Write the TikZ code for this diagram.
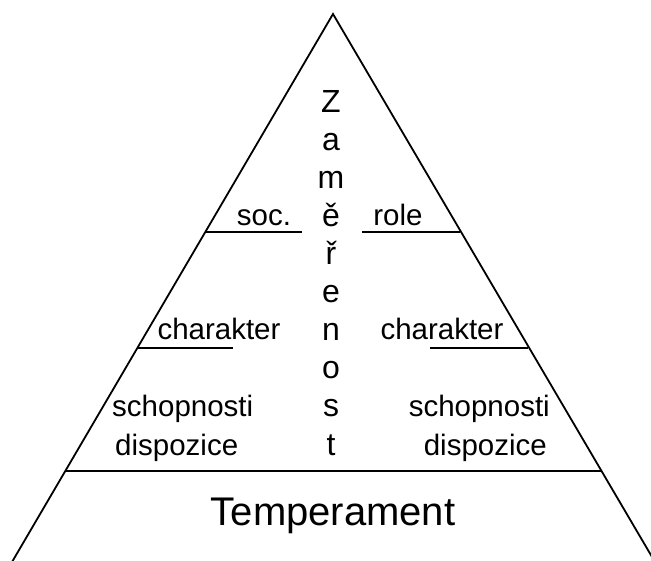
\documentclass[tikz,border=0pt]{standalone}
\usepackage{fontspec}
\setmainfont{Liberation Sans}
\begin{document}
\begin{tikzpicture}[x=1pt,y=-1pt,
  side/.style={line width=1.8pt},
  tier/.style={line width=1.3pt},
  lab/.style={font=\fontsize{29.5}{34}\selectfont, inner sep=0pt, anchor=base},
  letter/.style={font=\fontsize{32}{36}\selectfont, inner sep=0pt, anchor=base},
  basetext/.style={font=\fontsize{40}{44}\selectfont, inner sep=0pt, anchor=base}]
  \useasboundingbox[clip] (0,0) rectangle (651,561);
  % pyramid outline
  \coordinate (apex) at (333,14);
  \coordinate (bl) at (12,562);
  \coordinate (br) at (655,562);
  \draw[side, line join=miter] (bl) -- (apex) -- (br);
  % tier lines
  \coordinate (s1) at (205,232);
  \coordinate (s2) at (302,232);
  \coordinate (r1) at (362,232);
  \coordinate (r2) at (460,232);
  \coordinate (c1) at (137,348);
  \coordinate (c2) at (233,348);
  \coordinate (c3) at (430,348);
  \coordinate (c4) at (528,348);
  \coordinate (b1) at (65,471);
  \coordinate (b2) at (602,471);
  \draw[tier] (s1) -- (s2);
  \draw[tier] (r1) -- (r2);
  \draw[tier] (c1) -- (c2);
  \draw[tier] (c3) -- (c4);
  \draw[tier] (b1) -- (b2);
  % vertical word
  \foreach \ch [count=\i from 0] in {Z,a,m,ě,ř,e,n,o,s,t}
    \node[letter] (v\i) at (331,113+38*\i) {\ch};
  % labels
  \node[lab] (soc) at (264,226) {soc.};
  \node[lab] (role) at (398,226) {role};
  \node[lab] (chl) at (219,340) {charakter};
  \node[lab] (chr) at (442,340) {charakter};
  \node[lab, anchor=base west] (schl) at (112,417) {schopnosti};
  \node[lab, anchor=base west] (disl) at (115,455) {dispozice};
  \node[lab, anchor=base east] (schr) at (550,417) {schopnosti};
  \node[lab, anchor=base east] (disr) at (547,455) {dispozice};
  \node[basetext] (temp) at (333,525) {Temperament};
\end{tikzpicture}
\end{document}
